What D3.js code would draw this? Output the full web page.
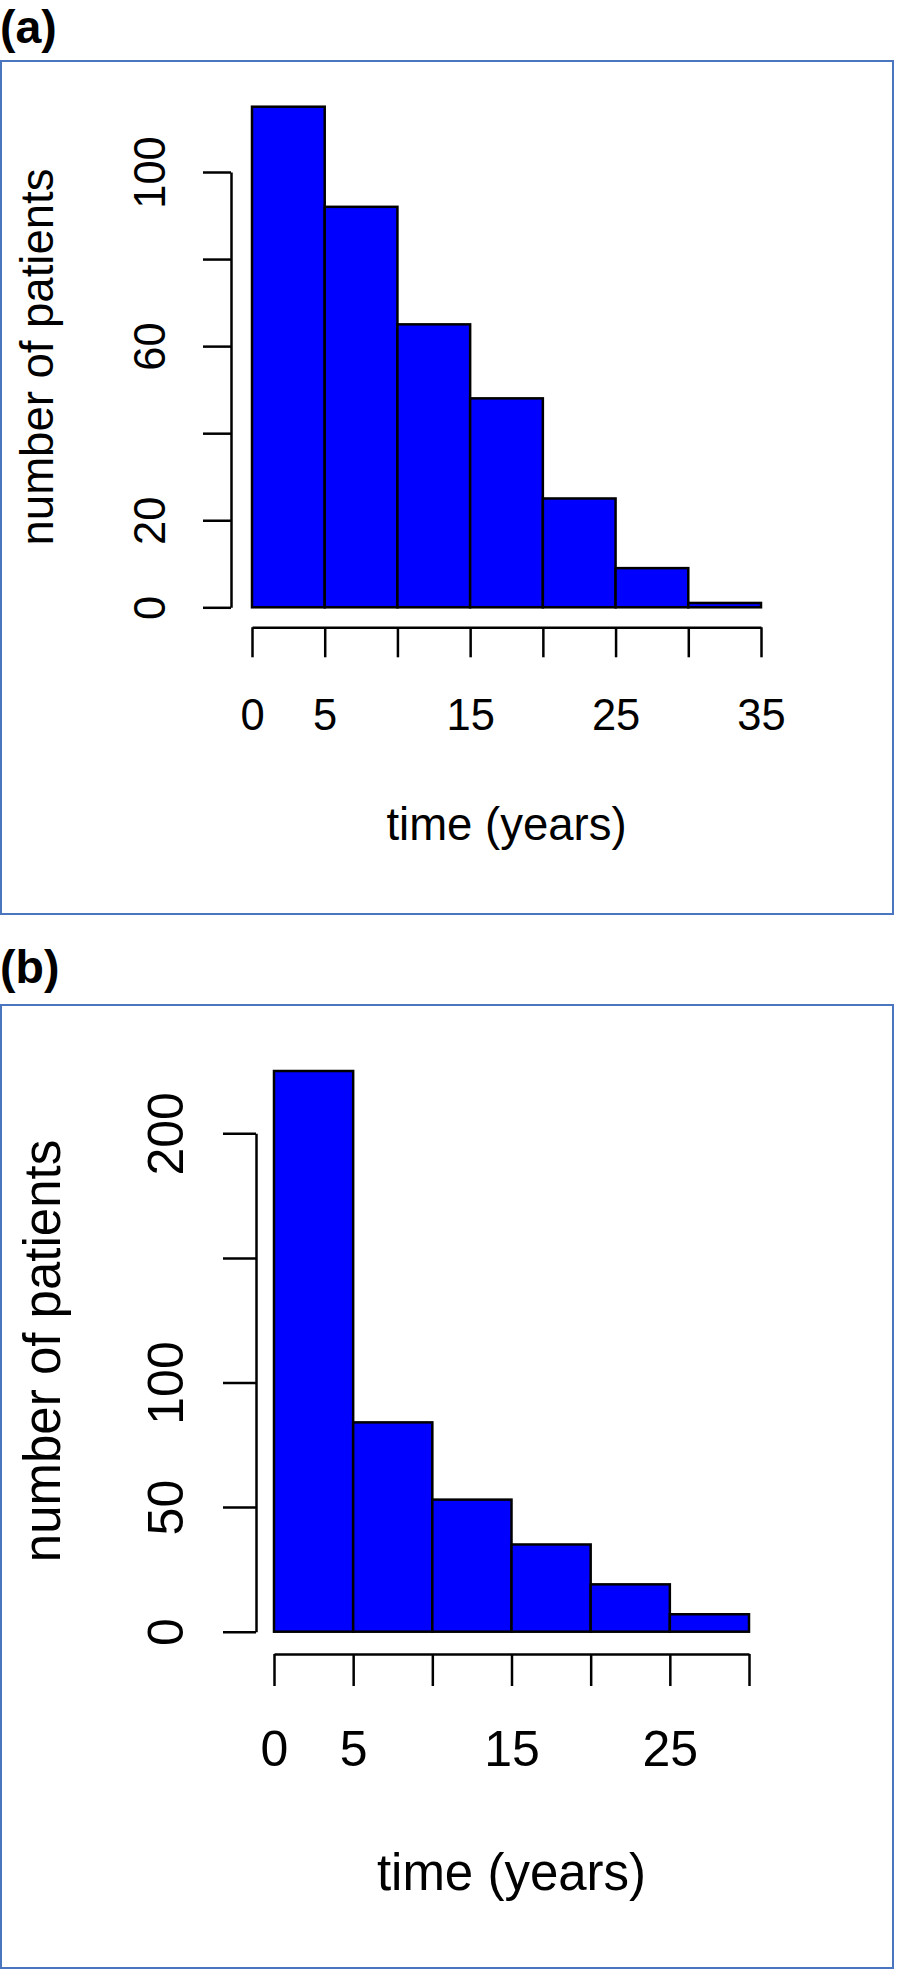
<!DOCTYPE html>
<html>
<head>
<meta charset="utf-8">
<script src="https://cdn.jsdelivr.net/npm/d3@7"></script>
<style>
  html, body { margin: 0; padding: 0; background: #fff; }
  svg { display: block; }
</style>
</head>
<body>
<svg id="chart" width="897" height="1970"></svg>
<script>
// ---------- data ----------
const breaksA = [0, 5, 10, 15, 20, 25, 30, 35];
const countsA = [115, 92, 65, 48, 25, 9, 1];
const yTicksA = [0, 20, 40, 60, 80, 100];
const yTickLabelsA = ["0", "20", "", "60", "", "100"];
const xTicksA = [0, 5, 10, 15, 20, 25, 30, 35];
const xTickLabelsA = ["0", "5", "", "15", "", "25", "", "35"];

const breaksB = [0, 5, 10, 15, 20, 25, 30];
const countsB = [225, 84, 53, 35, 19, 7];
const yTicksB = [0, 50, 100, 150, 200];
const yTickLabelsB = ["0", "50", "100", "", "200"];
const xTicksB = [0, 5, 10, 15, 20, 25, 30];
const xTickLabelsB = ["0", "5", "", "15", "", "25", ""];

const panelLabels = ["(a)", "(b)"];
const xTitle = "time (years)";
const yTitle = "number of patients";

// ---------- layout ----------
const svg = d3.select("#chart");
const FONT = "'Liberation Sans', Arial, Helvetica, sans-serif";

const panels = [
  {
    label: panelLabels[0], breaks: breaksA, counts: countsA,
    yTicks: yTicksA, yLabels: yTickLabelsA, xTicks: xTicksA, xLabels: xTickLabelsA,
    frame: {x: 1, y: 61, w: 892, h: 853}, labelBase: 42.5,
    xDom: [0, 35], xRange: [252, 761],
    yDom: [0, 100], yRange: [607.3, 172],
    yAxisX: 231, xAxisY: 627.3,
    yTickLen: 28, xTickLen: 30,
    tickFont: 43.5, titleFont: 45.5,
    yTickOff: 66, xTickBase: 730,
    yTitleX: 53, yTitleY: 357, xTitleY: 840, xTitleX: 506.5
  },
  {
    label: panelLabels[1], breaks: breaksB, counts: countsB,
    yTicks: yTicksB, yLabels: yTickLabelsB, xTicks: xTicksB, xLabels: xTickLabelsB,
    frame: {x: 1, y: 1005, w: 892, h: 963}, labelBase: 982.5,
    xDom: [0, 30], xRange: [274, 749],
    yDom: [0, 200], yRange: [1631.7, 1133.3],
    yAxisX: 256, xAxisY: 1654,
    yTickLen: 33, xTickLen: 32,
    tickFont: 50, titleFont: 51,
    yTickOff: 73, xTickBase: 1766,
    yTitleX: 60, yTitleY: 1351, xTitleY: 1890, xTitleX: 511.5
  }
];

panels.forEach(p => {
  // frame
  svg.append("rect")
    .attr("x", p.frame.x).attr("y", p.frame.y)
    .attr("width", p.frame.w).attr("height", p.frame.h)
    .attr("fill", "none").attr("stroke", "#4a76bf").attr("stroke-width", 2);

  // panel label
  svg.append("text")
    .attr("x", 0).attr("y", p.labelBase)
    .attr("font-family", FONT)
    .attr("font-weight", "bold")
    .attr("font-size", 46.5)
    .attr("fill", "#000")
    .text(p.label);

  const x = d3.scaleLinear().domain(p.xDom).range(p.xRange);
  const y = d3.scaleLinear().domain(p.yDom).range(p.yRange);

  const bins = p.counts.map((c, i) => ({x0: p.breaks[i], x1: p.breaks[i + 1], c}));

  // bars
  svg.append("g").selectAll("rect").data(bins).join("rect")
    .attr("x", d => x(d.x0))
    .attr("width", d => x(d.x1) - x(d.x0))
    .attr("y", d => y(d.c))
    .attr("height", d => y(0) - y(d.c))
    .attr("fill", "#0000ff")
    .attr("stroke", "#000")
    .attr("stroke-width", 2.5);

  // y axis
  const gy = svg.append("g")
    .attr("transform", `translate(${p.yAxisX},0)`)
    .call(d3.axisLeft(y).tickValues(p.yTicks).tickSize(p.yTickLen).tickSizeOuter(0)
      .tickFormat((d, i) => p.yLabels[i]));
  gy.select(".domain").attr("stroke", "#000").attr("stroke-width", 2.5);
  gy.selectAll(".tick line").attr("stroke", "#000").attr("stroke-width", 2.5);
  gy.selectAll(".tick text")
    .attr("transform", "rotate(-90)")
    .attr("x", 0).attr("y", -p.yTickOff).attr("dy", 0)
    .attr("text-anchor", "middle")
    .attr("font-family", FONT).attr("font-size", p.tickFont).attr("fill", "#000");

  // x axis
  const gx = svg.append("g")
    .attr("transform", `translate(0,${p.xAxisY})`)
    .call(d3.axisBottom(x).tickValues(p.xTicks).tickSize(p.xTickLen).tickSizeOuter(0)
      .tickFormat((d, i) => p.xLabels[i]));
  gx.select(".domain").attr("stroke", "#000").attr("stroke-width", 2.5);
  gx.selectAll(".tick line").attr("stroke", "#000").attr("stroke-width", 2.5);
  gx.selectAll(".tick text")
    .attr("y", p.xTickBase - p.xAxisY).attr("dy", 0)
    .attr("font-family", FONT).attr("font-size", p.tickFont).attr("fill", "#000");

  // axis titles
  svg.append("text")
    .attr("x", p.xTitleX).attr("y", p.xTitleY)
    .attr("text-anchor", "middle")
    .attr("font-family", FONT).attr("font-size", p.titleFont).attr("fill", "#000")
    .text(xTitle);

  svg.append("text")
    .attr("transform", `translate(${p.yTitleX},${p.yTitleY}) rotate(-90)`)
    .attr("text-anchor", "middle")
    .attr("font-family", FONT).attr("font-size", p.titleFont).attr("fill", "#000")
    .text(yTitle);
});
</script>
</body>
</html>
